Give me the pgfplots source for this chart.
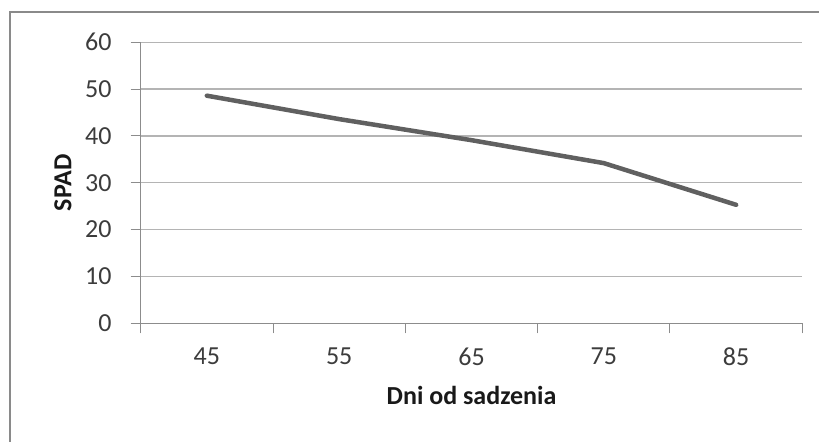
\documentclass[border=0pt]{standalone}
\usepackage{pgfplots}
\pgfplotsset{compat=1.18}
\usepackage{fontspec}
\setmainfont{Carlito}
\definecolor{linegray}{HTML}{606060}
\definecolor{gridgray}{HTML}{B4B4B4}
\definecolor{axisgray}{HTML}{8C8C8C}
\definecolor{ticktext}{HTML}{3C3C3C}
\definecolor{framegray}{HTML}{8A8A8A}
\begin{document}
\begin{tikzpicture}
\path[use as bounding box] (0,0) rectangle (819bp,442bp);
\draw[framegray, line width=1.2bp] (10bp,0) -- (10bp,430bp) -- (819bp,430bp);
\begin{axis}[
  at={(140.7bp,118.7bp)}, anchor=south west,
  scale only axis,
  width=661.6bp, height=281bp,
  xmin=-0.5, xmax=4.5,
  ymin=0, ymax=60,
  xtick={0,1,2,3,4},
  xticklabels={45,55,65,75,85},
  minor xtick={-0.5,0.5,1.5,2.5,3.5,4.5},
  ytick={0,10,20,30,40,50,60},
  axis x line*=bottom, axis y line*=left,
  axis line style={-, draw=axisgray, line width=1bp},
  tick align=outside,
  major x tick style={draw=none},
  minor x tick style={draw=axisgray, line width=1bp},
  major y tick style={draw=axisgray, line width=1bp},
  minor tick length=10bp,
  major tick length=10bp,
  ymajorgrids,
  grid style={draw=gridgray, line width=1.3bp},
  tick label style={font=\fontsize{26bp}{30bp}\selectfont, text=ticktext},
  /pgf/number format/assume math mode=true,
  xticklabel style={anchor=north, inner sep=0pt, yshift=-14.7bp},
  yticklabel style={anchor=east, inner sep=0pt, xshift=-19bp},
  xlabel={\textbf{Dni od sadzenia}},
  ylabel={\textbf{SPAD}},
  label style={font=\fontsize{26bp}{30bp}\selectfont, text=black!90},
  xlabel style={at={(axis description cs:0.5,-0.289)}, anchor=base},
  ylabel style={at={(axis description cs:-0.1174,0.5)}, anchor=center, rotate=0},
  clip=false,
]
\addplot[linegray, line width=4.5bp, line join=round, line cap=round] coordinates {
  (0,48.6) (1,43.6) (2,39.1) (3,34.2) (4,25.3)
};
\end{axis}
\end{tikzpicture}
\end{document}
